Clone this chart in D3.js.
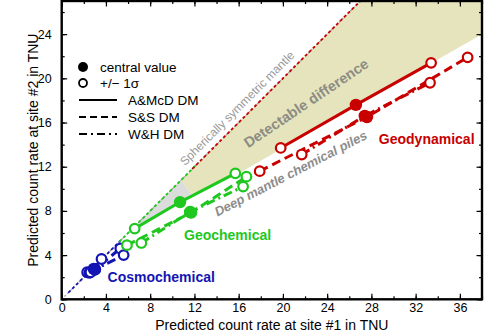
<!DOCTYPE html>
<html><head><meta charset="utf-8">
<script src="https://cdn.jsdelivr.net/npm/d3@7"></script>
<style>body{margin:0;background:#fff}svg{display:block;font-family:"Liberation Sans",Arial,Helvetica,sans-serif}</style>
</head><body><svg width="492" height="333"></svg>
<script>
// ---- data ----
const models = ["A&McD DM", "S&S DM", "W&H DM"];
const groups = ["Cosmochemical", "Geochemical", "Geodynamical"];
const groupColors = ["#1414b4", "#1ec81e", "#c80000"];
// each model: [low (-1σ), central, high (+1σ)] as [site1, site2] TNU
const cosmoAMcD = [[2.3, 2.45], [2.9, 2.75], [3.6, 3.65]];
const cosmoSS   = [[2.5, 2.4], [3.0, 2.7], [5.3, 4.6]];
const cosmoWH   = [[2.6, 2.45], [3.0, 2.7], [5.6, 4.0]];
const geochemAMcD = [[6.6, 6.4], [10.7, 8.8], [15.7, 11.4]];
const geochemSS   = [[5.9, 4.9], [11.7, 7.85], [16.7, 11.1]];
const geochemWH   = [[7.2, 5.1], [11.6, 7.9], [16.4, 10.2]];
const geodynAMcD = [[19.8, 13.7], [26.6, 17.6], [33.4, 21.4]];
const geodynSS   = [[17.9, 11.6], [27.6, 16.5], [36.7, 21.9]];
const geodynWH   = [[21.7, 13.1], [27.4, 16.6], [33.3, 19.6]];
// spherically symmetric mantle predictions along y = x
const diagBlue = [0.6, 5.3], diagGreen = [5.2, 12.2], diagRed = [11.8, 27];
const detectable = [[10.8, 10.8], [11.7, 9.5], [16.1, 11.45], [38, 24.0], [38, 27], [27, 27]];
const grayZone = [[6.6, 6.6], [10.8, 10.8], [11.7, 9.5], [10.7, 8.8], [6.6, 6.4]];
const xMajor = [0, 4, 8, 12, 16, 20, 24, 28, 32, 36];
const yMajor = [0, 4, 8, 12, 16, 20, 24];

const series = [
  [cosmoAMcD, cosmoSS, cosmoWH],
  [geochemAMcD, geochemSS, geochemWH],
  [geodynAMcD, geodynSS, geodynWH]
];
const diags = [diagBlue, diagGreen, diagRed];
const dashes = [null, "9,5", "9,4,2,4"];

// ---- layout ----
const svg = d3.select("svg");
const L = 61.7, T = 1, R = 482, B = 299.3;
const x = d3.scaleLinear().domain([0, 38]).range([L, R]);
const y = d3.scaleLinear().domain([0, 27]).range([B, T]);

svg.append("clipPath").attr("id", "c").append("rect")
  .attr("x", L).attr("y", T).attr("width", R - L).attr("height", B - T);
const plot = svg.append("g").attr("clip-path", "url(#c)");

const poly = d3.line().x(d => x(d[0])).y(d => y(d[1]));
plot.append("path").attr("d", poly(detectable) + "Z").attr("fill", "#e6e4bc");
plot.append("path").attr("d", poly(grayZone) + "Z").attr("fill", "#dcdcdc");

// diagonal
plot.append("line").attr("x1", x(0)).attr("y1", y(0)).attr("x2", x(27)).attr("y2", y(27))
  .attr("stroke", "#999").attr("stroke-width", 1.2).attr("stroke-dasharray", "2,2");
diags.forEach((d, i) => {
  plot.append("line").attr("x1", x(d[0])).attr("y1", y(d[0])).attr("x2", x(d[1])).attr("y2", y(d[1]))
    .attr("stroke", groupColors[i]).attr("stroke-width", 1.8).attr("stroke-dasharray", "3,2.5");
});

// text annotations inside plot
plot.append("text").attr("transform", `translate(${x(15.86)},${y(17.3)}) rotate(-45)`)
  .attr("text-anchor", "middle").attr("dy", "0.35em").attr("font-size", 12).attr("fill", "#999")
  .text("Spherically symmetric mantle");
plot.append("text").attr("transform", `translate(${x(22.1)},${y(17.76)}) rotate(-34)`)
  .attr("text-anchor", "middle").attr("dy", "0.35em").attr("font-size", 14.5).attr("font-weight", "bold").attr("fill", "#8c8c84")
  .text("Detectable difference");
plot.append("text").attr("transform", `translate(${x(20.7)},${y(11.4)}) rotate(-27.5)`)
  .attr("text-anchor", "middle").attr("dy", "0.35em").attr("font-size", 13).attr("font-weight", "bold")
  .attr("font-style", "italic").attr("fill", "#8c8c8c")
  .text("Deep mantle chemical piles");

// series lines and markers
series.forEach((grp, gi) => {
  const col = groupColors[gi];
  grp.forEach((pts, mi) => {
    plot.append("path").attr("d", poly(pts)).attr("fill", "none").attr("stroke", col)
      .attr("stroke-width", 3).attr("stroke-dasharray", dashes[mi]);
  });
  grp.forEach(pts => {
    [pts[0], pts[2]].forEach(p => {
      plot.append("circle").attr("cx", x(p[0])).attr("cy", y(p[1])).attr("r", 4.8)
        .attr("fill", "#fff").attr("stroke", col).attr("stroke-width", 2.2);
    });
  });
  grp.forEach(pts => {
    plot.append("circle").attr("cx", x(pts[1][0])).attr("cy", y(pts[1][1])).attr("r", 6.2)
      .attr("fill", col);
  });
});

// group labels
const gLabels = [[9.0, 2.0], [15.0, 5.8], [33.0, 14.5]];
groups.forEach((g, i) => {
  svg.append("text").attr("x", x(gLabels[i][0])).attr("y", y(gLabels[i][1])).attr("dy", "0.35em")
    .attr("text-anchor", "middle").attr("font-size", 14).attr("font-weight", "bold")
    .attr("fill", groupColors[i]).text(g);
});

// axes
function styleAxis(g) {
  g.select(".domain").remove();
  g.selectAll("line").attr("stroke", "#000").attr("stroke-width", 1.2);
  g.selectAll("text").attr("font-size", 12.5).attr("fill", "#000").attr("font-family", null);
}
const xMinor = d3.range(0, 39, 2), yMinor = d3.range(0, 28, 2);
svg.append("g").attr("transform", `translate(0,${B})`)
  .call(d3.axisBottom(x).tickValues(xMinor).tickSize(-3).tickFormat("")).call(styleAxis);
svg.append("g").attr("transform", `translate(0,${B})`)
  .call(d3.axisBottom(x).tickValues(xMajor).tickSize(-5.5).tickPadding(4).tickFormat(d3.format("d"))).call(styleAxis);
svg.append("g").attr("transform", `translate(0,${T})`)
  .call(d3.axisTop(x).tickValues(xMinor).tickSize(-3).tickFormat("")).call(styleAxis);
svg.append("g").attr("transform", `translate(0,${T})`)
  .call(d3.axisTop(x).tickValues(xMajor).tickSize(-5.5).tickFormat("")).call(styleAxis);
svg.append("g").attr("transform", `translate(${L},0)`)
  .call(d3.axisLeft(y).tickValues(yMinor).tickSize(-3).tickFormat("")).call(styleAxis);
svg.append("g").attr("transform", `translate(${L},0)`)
  .call(d3.axisLeft(y).tickValues(yMajor).tickSize(-5.5).tickPadding(10).tickFormat(d3.format("d"))).call(styleAxis);
svg.append("g").attr("transform", `translate(${R},0)`)
  .call(d3.axisRight(y).tickValues(yMinor).tickSize(-3).tickFormat("")).call(styleAxis);
svg.append("g").attr("transform", `translate(${R},0)`)
  .call(d3.axisRight(y).tickValues(yMajor).tickSize(-5.5).tickFormat("")).call(styleAxis);

// frame
svg.append("rect").attr("x", L).attr("y", T).attr("width", R - L).attr("height", B - T)
  .attr("fill", "none").attr("stroke", "#000").attr("stroke-width", 2.4);

// axis titles
svg.append("text").attr("x", (L + R) / 2).attr("y", 325).attr("dy", "0.35em").attr("text-anchor", "middle")
  .attr("font-size", 14).text("Predicted count rate at site #1 in TNU");
svg.append("text").attr("transform", `translate(33,${(T + B) / 2}) rotate(-90)`).attr("dy", "0.35em")
  .attr("text-anchor", "middle").attr("font-size", 14).text("Predicted count rate at site #2 in TNU");

// legend
const lg = svg.append("g").attr("font-size", 13.5);
lg.append("circle").attr("cx", 83).attr("cy", 67).attr("r", 5).attr("fill", "#000");
lg.append("text").attr("x", 100).attr("y", 67).attr("dy", "0.35em").text("central value");
lg.append("circle").attr("cx", 83).attr("cy", 83).attr("r", 4).attr("fill", "#fff").attr("stroke", "#000").attr("stroke-width", 1.8);
lg.append("text").attr("x", 100).attr("y", 83).attr("dy", "0.35em").text("+/\u2212 1\u03c3");
models.forEach((m, i) => {
  const yy = 100 + i * 17;
  lg.append("line").attr("x1", 79).attr("x2", 117).attr("y1", yy).attr("y2", yy)
    .attr("stroke", "#000").attr("stroke-width", 1.8).attr("stroke-dasharray", dashes[i] ? (i === 1 ? "7,4" : "8,4,2,4") : null);
  lg.append("text").attr("x", 128).attr("y", yy).attr("dy", "0.35em").text(m);
});
</script></body></html>
